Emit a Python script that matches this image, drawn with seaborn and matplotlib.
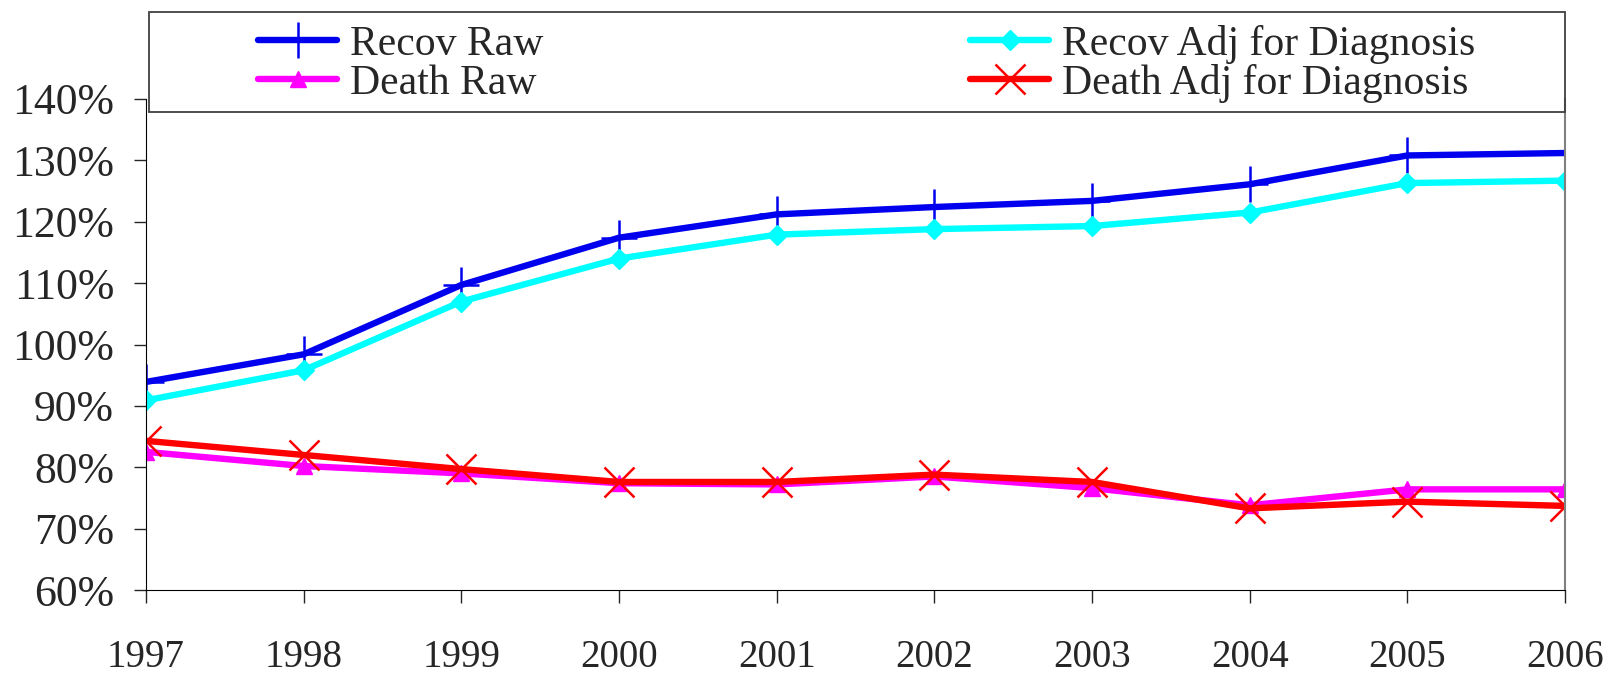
import matplotlib
matplotlib.use("Agg")

import matplotlib.pyplot as plt
import seaborn as sns
from matplotlib.patches import Rectangle
from matplotlib.ticker import FuncFormatter


# ==========================================
# DATA (percent)
# ==========================================

years = [1997, 1998, 1999, 2000, 2001, 2002, 2003, 2004, 2005, 2006]

recov_raw = [93.9, 98.4, 109.7, 117.4, 121.2, 122.4, 123.4, 126.1, 130.8, 131.2]

recov_adj = [90.9, 95.8, 107.0, 114.0, 117.9, 118.8, 119.3, 121.5, 126.3, 126.7]

death_raw = [82.5, 80.2, 79.0, 77.4, 77.2, 78.5, 76.6, 73.8, 76.4, 76.4]

death_adj = [84.3, 82.0, 79.7, 77.6, 77.6, 78.8, 77.6, 73.3, 74.4, 73.7]

labels = [
    "Recov Raw",
    "Recov Adj for Diagnosis",
    "Death Raw",
    "Death Adj for Diagnosis"
]


# ==========================================
# STYLE
# ==========================================

sns.set_style("ticks")

plt.rcParams["font.family"] = ["Liberation Serif", "DejaVu Serif"]

W, H = 1613, 673

fig = plt.figure(figsize=(W / 100, H / 100), dpi=100)

ax = fig.add_axes([
    146 / W,
    (H - 590) / H,
    (1565 - 146) / W,
    (590 - 99) / H
])


# ----------------------------------
# LINES
# ----------------------------------

series = [
    (recov_raw, "#0000ee", "+", 26, 1.8),
    (recov_adj, "#00ffff", "D", 10, 1.0),
    (death_raw, "#ff00ff", "^", 12, 1.0),
    (death_adj, "#ff0000", "x", 22, 1.8),
]

handles = []

for (values, color, marker, msize, mew), label in zip(series, labels):

    sns.lineplot(
        x=years,
        y=values,
        ax=ax,
        color=color,
        linewidth=4.6,
        marker=marker,
        markersize=msize,
        markeredgewidth=mew,
        markeredgecolor=color,
        label=label,
        legend=False
    )

    handles.append(ax.lines[-1])


# ----------------------------------
# AXES
# ----------------------------------

ax.set_xlim(years[0], years[-1])

ax.set_ylim(60, 140)

ax.set_xticks(years)

ax.set_yticks(range(60, 141, 10))

ax.yaxis.set_major_formatter(
    FuncFormatter(lambda v, p: f"{v:.0f}%")
)

ax.tick_params(axis="y", labelsize=31.5, length=9, width=1, pad=14, direction="out")

ax.tick_params(axis="x", labelsize=28, length=9, width=1, pad=26, direction="out")

ax.spines["top"].set_visible(False)

ax.spines["left"].set_color("black")

ax.spines["bottom"].set_color("black")

ax.spines["right"].set_color("#808080")

ax.spines["right"].set_linewidth(1.5)

ax.set_xlabel("")

ax.set_ylabel("")


# ----------------------------------
# LEGEND
# ----------------------------------

fig.patches.append(
    Rectangle(
        (149 / W, (H - 112) / H),
        (1565 - 149) / W,
        100 / H,
        transform=fig.transFigure,
        fill=False,
        edgecolor="#404040",
        linewidth=1.3,
        zorder=5
    )
)

order = [0, 2, 1, 3]

fig.legend(
    [handles[i] for i in order],
    [labels[i] for i in order],
    loc="upper left",
    bbox_to_anchor=(258 / W, (H - 25) / H),
    ncol=2,
    frameon=False,
    fontsize=30,
    borderpad=0,
    borderaxespad=0,
    handlelength=1.9,
    handletextpad=0.3,
    columnspacing=10.25,
    labelspacing=0.0
)

fig.savefig("out.png", dpi=100)
